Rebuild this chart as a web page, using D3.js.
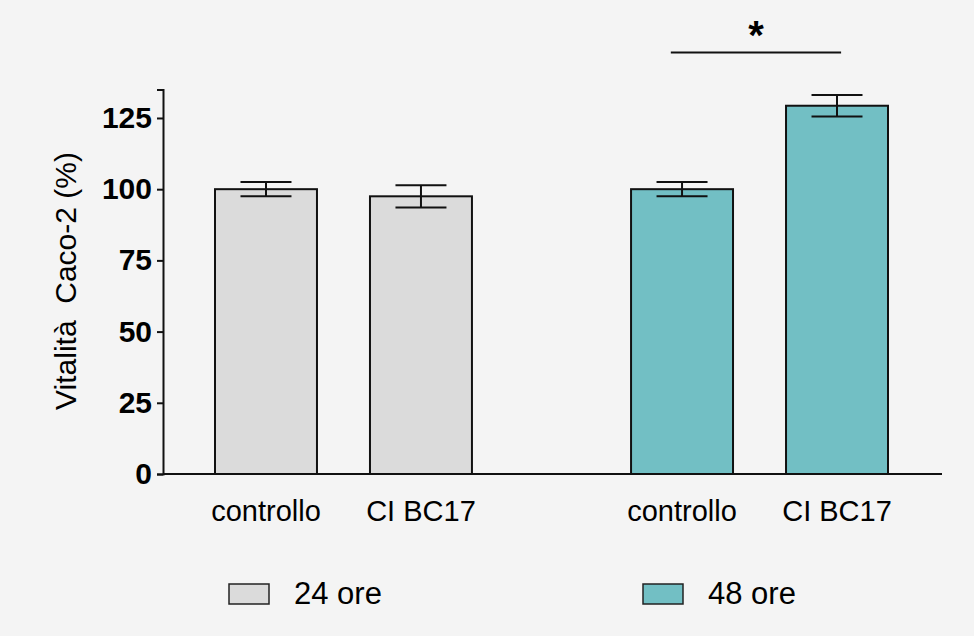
<!DOCTYPE html>
<html>
<head>
<meta charset="utf-8">
<script src="https://cdn.jsdelivr.net/npm/d3@7"></script>
<style>
  body { margin: 0; background: #f4f4f4; }
  text { font-family: "Liberation Sans", Arial, sans-serif; fill: #000; }
</style>
</head>
<body>
<div id="chart"></div>
<script>
// data
const groups = ["24 ore", "48 ore"];
const treatments = ["controllo", "CI BC17"];
const means24 = [100, 97.5];
const errors24 = [2.5, 3.9];
const means48 = [100, 129.3];
const errors48 = [2.5, 3.8];
const yTicks = [0, 25, 50, 75, 100, 125];
const groupColors = ["#dbdbdb", "#72bfc4"];

const width = 974, height = 636;

const svg = d3.select("#chart").append("svg")
    .attr("width", width)
    .attr("height", height);

svg.append("rect")
    .attr("width", width)
    .attr("height", height)
    .attr("fill", "#f4f4f4");

// scales
const y = d3.scaleLinear().domain([0, 135]).range([474, 89.5]);

const x0 = d3.scaleBand().domain(groups).range([188.5, 914.5])
    .paddingInner(0.255).paddingOuter(0);

const x1 = d3.scaleBand().domain(treatments).range([0, x0.bandwidth()])
    .paddingInner(0.342).paddingOuter(0.171);

const color = d3.scaleOrdinal().domain(groups).range(groupColors);

// build rows
let rows = [];
groups.forEach((g, gi) => {
    const means = gi === 0 ? means24 : means48;
    const errs = gi === 0 ? errors24 : errors48;
    treatments.forEach((t, ti) => {
        rows.push({group: g, treat: t, value: means[ti], err: errs[ti]});
    });
});

const xLeft = d => x0(d.group) + x1(d.treat);
const xMid = d => xLeft(d) + x1.bandwidth() / 2;

// bars
svg.append("g").selectAll("rect")
    .data(rows)
    .enter().append("rect")
    .attr("x", d => xLeft(d))
    .attr("y", d => y(d.value))
    .attr("width", x1.bandwidth())
    .attr("height", d => y(0) - y(d.value))
    .attr("fill", d => color(d.group))
    .attr("stroke", "#111")
    .attr("stroke-width", 2);

// error bars
const capW = x1.bandwidth() / 2;
const eb = svg.append("g").attr("stroke", "#111").attr("stroke-width", 2);
rows.forEach(d => {
    eb.append("line")
        .attr("x1", xMid(d)).attr("x2", xMid(d))
        .attr("y1", y(d.value - d.err)).attr("y2", y(d.value + d.err));
    [d.value - d.err, d.value + d.err].forEach(v => {
        eb.append("line")
            .attr("x1", xMid(d) - capW / 2).attr("x2", xMid(d) + capW / 2)
            .attr("y1", y(v)).attr("y2", y(v));
    });
});

// y axis
const yAxis = svg.append("g")
    .attr("transform", "translate(163,0)")
    .call(d3.axisLeft(y).tickValues(yTicks).tickSize(6).tickPadding(5));
yAxis.select(".domain").attr("stroke", "#111").attr("stroke-width", 2);
yAxis.selectAll(".tick line").attr("stroke", "#111").attr("stroke-width", 2);
yAxis.selectAll(".tick text")
    .attr("font-family", "Liberation Sans, Arial, sans-serif")
    .attr("font-size", 30)
    .attr("font-weight", "bold")
    .attr("fill", "#000");

// x axis line
svg.append("line")
    .attr("x1", 163).attr("x2", 942)
    .attr("y1", y(0)).attr("y2", y(0))
    .attr("stroke", "#111").attr("stroke-width", 2);

// x labels
svg.append("g").selectAll("text")
    .data(rows)
    .enter().append("text")
    .attr("x", d => xMid(d))
    .attr("y", 521)
    .attr("text-anchor", "middle")
    .attr("font-size", 29)
    .text(d => d.treat);

// y label
svg.append("text")
    .attr("transform", "translate(76,281) rotate(-90)")
    .attr("text-anchor", "middle")
    .attr("font-size", 30)
    .style("white-space", "pre")
    .text("Vitalità  Caco-2 (%)");

// significance
const r3 = rows[2], r4 = rows[3];
svg.append("line")
    .attr("x1", xLeft(r3) + x1.bandwidth() * 0.39)
    .attr("x2", xLeft(r4) + x1.bandwidth() * 0.54)
    .attr("y1", y(148)).attr("y2", y(148))
    .attr("stroke", "#111").attr("stroke-width", 2);
svg.append("text")
    .attr("x", (xLeft(r3) + x1.bandwidth() * 0.39 + xLeft(r4) + x1.bandwidth() * 0.54) / 2)
    .attr("y", 49)
    .attr("text-anchor", "middle")
    .attr("font-size", 40)
    .attr("font-weight", "bold")
    .text("*");

// legend
const legendX = [229, 643];
const legend = svg.append("g").selectAll("g")
    .data(groups)
    .enter().append("g")
    .attr("transform", (d, i) => `translate(${legendX[i]},584)`);
legend.append("rect")
    .attr("width", 40).attr("height", 20)
    .attr("fill", d => color(d))
    .attr("stroke", "#222").attr("stroke-width", 1.5);
legend.append("text")
    .attr("x", 65).attr("y", 20)
    .attr("font-size", 31)
    .text(d => d);
</script>
</body>
</html>
